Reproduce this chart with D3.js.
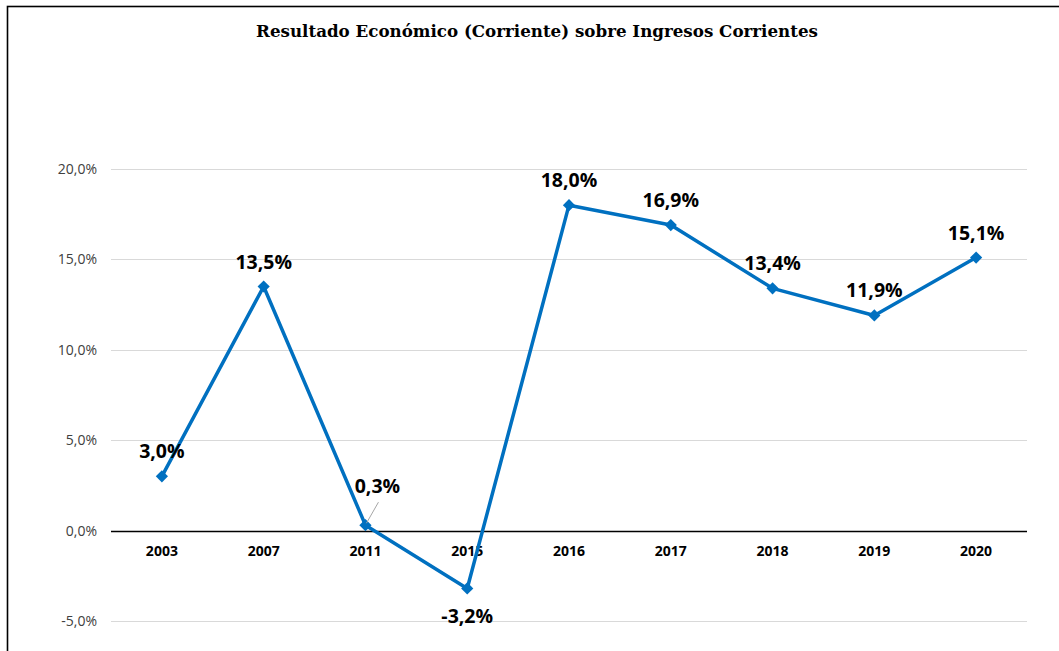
<!DOCTYPE html>
<html><head><meta charset="utf-8">
<script src="https://cdn.jsdelivr.net/npm/d3@7"></script>
<style>body{margin:0;background:#fff;}svg{display:block;}</style>
</head><body>
<svg id="c" width="1059" height="651"></svg>
<script>
const title = "Resultado Económico (Corriente) sobre Ingresos Corrientes";
const categories = ["2003","2007","2011","2015","2016","2017","2018","2019","2020"];
const values = [3.0, 13.5, 0.3, -3.2, 18.0, 16.9, 13.4, 11.9, 15.1];
const yTicks = [-5, 0, 5, 10, 15, 20];

const svg = d3.select("#c");
const m = {left: 111, right: 1027, top: 169, bottom: 621};

// chart border
svg.append("rect").attr("x", 7.5).attr("y", 6.5).attr("width", 1100).attr("height", 700)
  .attr("fill", "none").attr("stroke", "#000").attr("stroke-width", 1.6);

svg.append("text").attr("x", 537).attr("y", 37).attr("text-anchor", "middle")
  .attr("font-family", "'DejaVu Serif', serif").attr("font-weight", "bold")
  .attr("font-size", 16.7).attr("fill", "#000").text(title);

const x = d3.scaleBand().domain(categories).range([m.left, m.right]);
const y = d3.scaleLinear().domain([-5, 20]).range([m.bottom, m.top]);

// gridlines
svg.append("g").selectAll("line").data(yTicks.filter(d => d !== 0)).join("line")
  .attr("x1", m.left).attr("x2", m.right)
  .attr("y1", d => Math.round(y(d)) + 0.5).attr("y2", d => Math.round(y(d)) + 0.5)
  .attr("stroke", "#d9d9d9").attr("stroke-width", 1);

// y axis labels
const yAxis = d3.axisLeft(y).tickValues(yTicks).tickSize(0).tickPadding(0)
  .tickFormat(d => d.toFixed(1).replace(".", ",") + "%");
const gy = svg.append("g").attr("transform", `translate(${m.left - 14},0)`).call(yAxis);
gy.select(".domain").remove();
gy.selectAll("text").attr("font-family", "'Open Sans', sans-serif").attr("font-size", 14)
  .attr("fill", "#404040");

// zero axis line
svg.append("line").attr("x1", m.left).attr("x2", m.right)
  .attr("y1", Math.round(y(0)) + 0.5).attr("y2", Math.round(y(0)) + 0.5)
  .attr("stroke", "#000").attr("stroke-width", 1.3);

// x labels
const xAxis = d3.axisBottom(x).tickSize(0).tickPadding(0);
const gx = svg.append("g").attr("transform", `translate(0,${y(0) + 15})`).call(xAxis);
gx.select(".domain").remove();
gx.selectAll("text").attr("font-family", "'Open Sans', sans-serif").attr("font-size", 14)
  .attr("font-weight", "bold").attr("fill", "#000");

const cx = d => x(d) + x.bandwidth() / 2;
const pts = categories.map((c, i) => ({c, v: values[i]}));

// line
svg.append("path").datum(pts)
  .attr("d", d3.line().x(d => cx(d.c)).y(d => y(d.v)))
  .attr("fill", "none").attr("stroke", "#0070C0").attr("stroke-width", 3.5)
  .attr("stroke-linejoin", "round");

// markers
svg.append("g").selectAll("path").data(pts).join("path")
  .attr("transform", d => `translate(${cx(d.c)},${y(d.v)})`)
  .attr("d", d3.symbol(d3.symbolDiamond2, 95)())
  .attr("fill", "#0070C0");

// leader line for 0,3%
const i03 = categories.indexOf("2011");
svg.append("line")
  .attr("x1", cx(categories[i03]) + 13).attr("y1", y(values[i03]) - 23)
  .attr("x2", cx(categories[i03]) + 1).attr("y2", y(values[i03]) - 2)
  .attr("stroke", "#a6a6a6").attr("stroke-width", 1);

// data labels
svg.append("g").selectAll("text").data(pts).join("text")
  .attr("x", d => cx(d.c) + (d.c === "2011" ? 12 : 0))
  .attr("y", d => {
    if (d.v < 0) return y(d.v) + 35;
    if (d.c === "2011") return y(d.v) - 32;
    return y(d.v) - 18;
  })
  .attr("text-anchor", "middle")
  .attr("font-family", "'Open Sans', sans-serif").attr("font-weight", "bold")
  .attr("font-size", 19.5).attr("fill", "#000")
  .text(d => d.v.toFixed(1).replace(".", ",") + "%");
</script>
</body></html>
